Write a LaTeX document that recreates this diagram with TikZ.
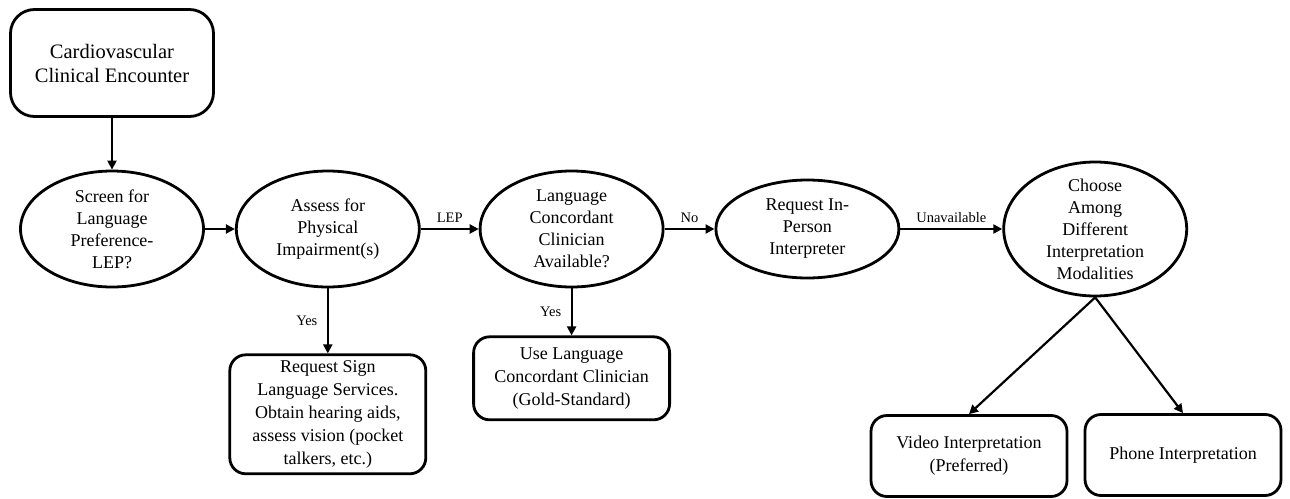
\documentclass[tikz,border=0pt]{standalone}
\usepackage{fontspec}
\setmainfont{Liberation Serif}
\newfontfamily\tnrfont{Liberation Serif}
\usetikzlibrary{arrows.meta, positioning, shapes.geometric}

\begin{document}
\begin{tikzpicture}[x=1pt, y=-1pt,
    rbox/.style={draw, line width=2.8pt, rounded corners=#1, fill=white, align=center, inner sep=4pt,
      minimum width=196pt, font=\tnrfont\fontsize{18}{23}\selectfont},
    rbox/.default=16pt,
    ebox/.style={draw, line width=2.8pt, ellipse, align=center, inner sep=-10pt,
      minimum width=183pt, minimum height=116pt, font=\tnrfont\fontsize{18}{22}\selectfont},
    lbl/.style={font=\tnrfont\fontsize{14.5}{17}\selectfont},
    arr/.style={->, line width=2.2pt},
    >={Triangle[length=9pt, width=9pt]}]
  \useasboundingbox (0,0) rectangle (1290,498);

  \node[rbox=24pt, minimum width=203pt, minimum height=107pt, font=\tnrfont\fontsize{20.5}{24}\selectfont] (enc) at (112,63)
    {Cardiovascular\\Clinical Encounter};
  \node[ebox] (scr) at (112,229) {Screen for\\Language\\Preference-\\LEP?};
  \node[ebox, right=30pt of scr] (ass) {Assess for\\Physical\\Impairment(s)};
  \node[ebox, right=58pt of ass] (lcc) {Language\\Concordant\\Clinician\\Available?};
  \node[ebox, minimum height=98pt, right=50pt of lcc] (ipi) {Request In-\\Person\\Interpreter};
  \node[ebox, minimum height=134pt, right=102pt of ipi] (cho) {Choose\\Among\\Different\\Interpretation\\Modalities};

  \node[rbox, minimum height=119pt, below=65pt of ass] (sgn)
    {Request Sign\\Language Services.\\Obtain hearing aids,\\assess vision (pocket\\talkers, etc.)};
  \node[rbox, minimum height=83pt, below=47pt of lcc] (use)
    {Use Language\\Concordant Clinician\\(Gold-Standard)};
  \node[rbox, minimum height=81pt] (vid) at (969,456) {Video Interpretation\\(Preferred)};
  \node[rbox, minimum height=81pt] (phn) at (1183,455) {Phone Interpretation};

  \draw[arr] (enc) -- (scr);
  \draw[arr] (scr) -- (ass);
  \draw[arr] (ass) -- node[lbl, above=2pt]{LEP} (lcc);
  \draw[arr] (lcc) -- node[lbl, above=2pt]{No} (ipi);
  \draw[arr] (ipi) -- node[lbl, above=2pt]{Unavailable} (cho);
  \draw[arr] (ass) -- node[lbl, left=6pt]{Yes} (sgn);
  \draw[arr] (lcc) -- node[lbl, left=6pt]{Yes} (use);
  \draw[arr] (cho.south) -- (vid.north);
  \draw[arr] (cho.south) -- (phn.north);
\end{tikzpicture}
\end{document}
